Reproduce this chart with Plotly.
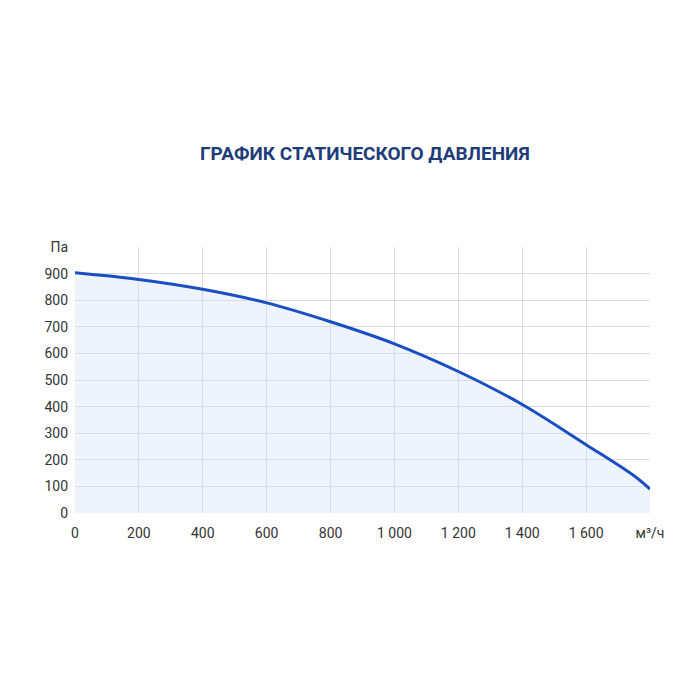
import plotly.graph_objects as go

flow = [0, 200, 400, 600, 800, 1000, 1200, 1400, 1600, 1750, 1800]
pressure = [903, 878, 841, 790, 719, 636, 532, 408, 257, 140, 90]

x_ticks = [0, 200, 400, 600, 800, 1000, 1200, 1400, 1600, 1800]
x_labels = ["0", "200", "400", "600", "800", "1 000", "1 200", "1 400", "1 600", "м³/ч"]
y_ticks = [0, 100, 200, 300, 400, 500, 600, 700, 800, 900, 1000]
y_labels = ["0", "100", "200", "300", "400", "500", "600", "700", "800", "900", "Па"]

fig = go.Figure()
fig.add_trace(go.Scatter(
    x=flow, y=pressure, mode="lines", line=dict(color="#1a4fc4", width=3, shape="spline"),
    fill="tozeroy", fillcolor="rgba(210,222,245,0.35)", hoverinfo="skip"))

fig.update_layout(
    width=700, height=700, showlegend=False,
    paper_bgcolor="white", plot_bgcolor="white",
    margin=dict(l=67, r=58, t=239, b=195, autoexpand=False),
    font=dict(family="Roboto", size=14, color="#333"),
    title=dict(text="<b>ГРАФИК СТАТИЧЕСКОГО ДАВЛЕНИЯ</b>", x=0.504, xref="paper", xanchor="center",
               y=0.793, yanchor="middle", font=dict(size=19, color="#1f3c7a")),
)
fig.update_xaxes(range=[0, 1800], tickvals=x_ticks, ticktext=x_labels, automargin=False,
                 ticklabelstandoff=10,
                 showgrid=True, gridcolor="#dcdcdc", zeroline=False, showline=False, ticks="")
fig.update_yaxes(range=[0, 1000], tickvals=y_ticks, ticktext=y_labels, automargin=False,
                 ticklabelstandoff=6,
                 showgrid=True, gridcolor="#dcdcdc", zeroline=False, showline=False, ticks="")
fig.write_html("out.html")
